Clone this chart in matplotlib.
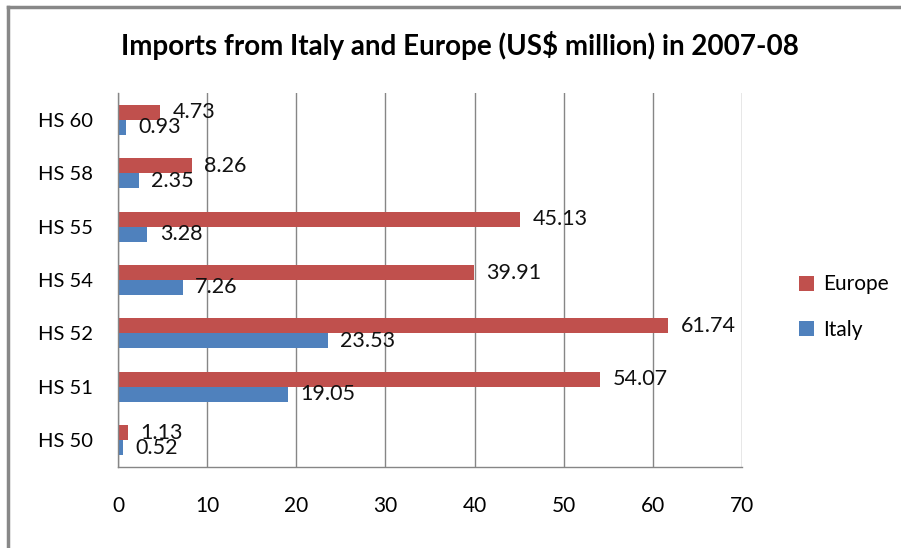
import matplotlib
matplotlib.use('Agg')
import matplotlib.pyplot as plt
from matplotlib.lines import Line2D

plt.rcParams['font.family'] = ['Lato', 'DejaVu Sans']

categories = ['HS 50', 'HS 51', 'HS 52', 'HS 54', 'HS 55', 'HS 58', 'HS 60']
europe = [1.13, 54.07, 61.74, 39.91, 45.13, 8.26, 4.73]
italy = [0.52, 19.05, 23.53, 7.26, 3.28, 2.35, 0.93]
x_ticks = [0, 10, 20, 30, 40, 50, 60, 70]

red = '#C0504D'
blue = '#4F81BD'
grid_color = '#868686'

fig = plt.figure(figsize=(9.01, 5.48), dpi=100)
ax = fig.add_axes([118 / 901, 1 - 467 / 548, (742 - 118) / 901, (467 - 93) / 548])

pos = list(range(len(categories)))
h = 0.28
bars_eu = ax.barh([p + h / 2 for p in pos], europe, height=h, color=red, label='Europe')
bars_it = ax.barh([p - h / 2 for p in pos], italy, height=h, color=blue, label='Italy')

for bars, vals in ((bars_eu, europe), (bars_it, italy)):
    for b, v in zip(bars, vals):
        ax.annotate(f'{v:.2f}', xy=(v, b.get_y() + b.get_height() / 2),
                    xytext=(9, 0), textcoords='offset points',
                    va='center', ha='left', fontsize=15.5, color='#111111')

ax.set_xlim(0, 70)
ax.set_ylim(-0.5, len(categories) - 0.5)
ax.set_xticks(x_ticks)
ax.set_yticks(pos)
ax.set_yticklabels(categories)
ax.tick_params(axis='x', length=0, pad=21, labelsize=15)
ax.tick_params(axis='y', length=0, pad=18, labelsize=14.5)
ax.xaxis.grid(True, color=grid_color, linewidth=1)
ax.set_axisbelow(True)
for side in ('top', 'right'):
    ax.spines[side].set_visible(False)
for side in ('left', 'bottom'):
    ax.spines[side].set_color(grid_color)
    ax.spines[side].set_linewidth(1)

fig.text(460 / 901, 1 - 45 / 548, 'Imports from Italy and Europe (US$ million) in 2007-08',
         ha='center', va='center', fontsize=20, fontweight='bold')

handles, labels = ax.get_legend_handles_labels()
fig.legend(handles, labels, loc='center left', bbox_to_anchor=(780 / 901, 1 - 307 / 548),
           frameon=False, fontsize=15, handlelength=0.75, handleheight=0.75,
           labelspacing=1.2, handletextpad=0.4)

# outer chart border (left and top visible)
fig.add_artist(Line2D([8 / 901, 8 / 901], [0, 1 - 7 / 548], color='#888888', linewidth=2.5))
fig.add_artist(Line2D([8 / 901, 1], [1 - 7 / 548, 1 - 7 / 548], color='#888888', linewidth=2.5))

fig.savefig('out.png', dpi=100)
